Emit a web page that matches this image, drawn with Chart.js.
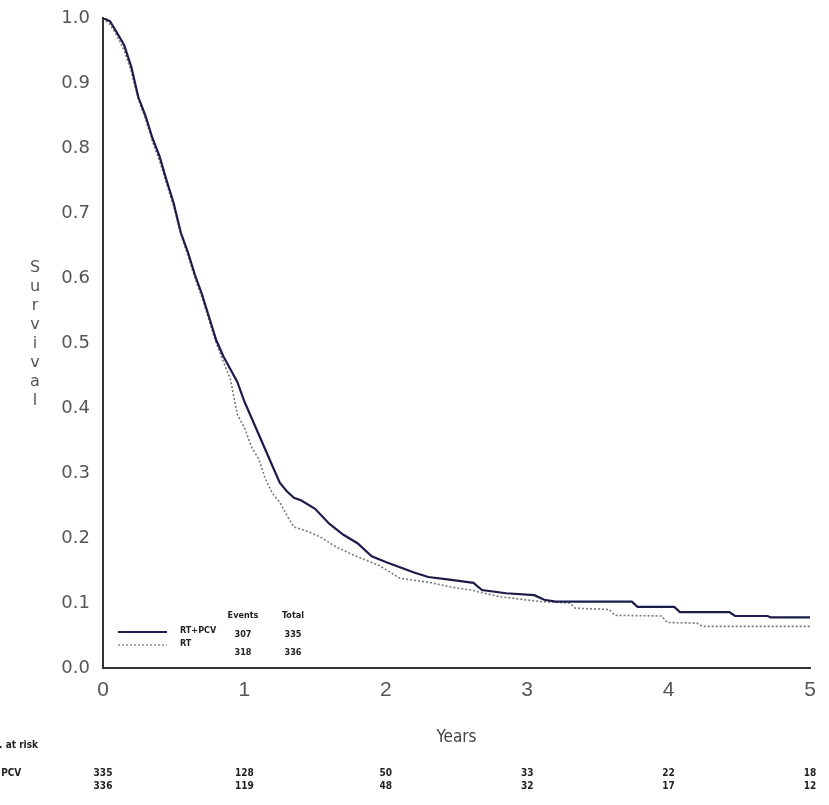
<!DOCTYPE html>
<html>
<head>
<meta charset="utf-8">
<script src="https://cdn.jsdelivr.net/npm/chart.js@4/dist/chart.umd.min.js"></script>
<style>
html,body{margin:0;padding:0;background:#fff;}
#wrap{width:829px;height:805px;position:relative;}
</style>
</head>
<body>
<div id="wrap"><canvas id="c" width="829" height="805"></canvas></div>
<script>
// ---- data ----
const seriesNames = ['RT+PCV', 'RT'];
const pcvTimes = [0,0.05,0.1,0.15,0.2,0.25,0.3,0.35,0.4,0.45,0.5,0.55,0.6,0.65,0.7,0.75,0.8,0.85,0.9,0.95,1.0,1.05,1.1,1.15,1.2,1.25,1.3,1.35,1.4,1.5,1.6,1.7,1.8,1.9,2.0,2.1,2.2,2.3,2.45,2.62,2.68,2.85,3.05,3.12,3.2,3.74,3.78,4.04,4.08,4.43,4.47,4.7,4.72,5.0];
const pcvSurv  = [1.0,0.995,0.977,0.958,0.925,0.878,0.85,0.815,0.787,0.75,0.715,0.67,0.64,0.605,0.575,0.54,0.505,0.48,0.46,0.44,0.41,0.385,0.36,0.335,0.31,0.285,0.272,0.262,0.258,0.245,0.222,0.205,0.192,0.172,0.163,0.155,0.147,0.14,0.136,0.131,0.12,0.115,0.112,0.105,0.102,0.102,0.094,0.094,0.086,0.086,0.08,0.08,0.078,0.078];
const rtTimes  = [0,0.05,0.1,0.15,0.2,0.25,0.3,0.35,0.4,0.45,0.5,0.55,0.6,0.65,0.7,0.75,0.8,0.85,0.9,0.95,1.0,1.05,1.1,1.15,1.2,1.25,1.3,1.35,1.45,1.55,1.65,1.8,1.95,2.1,2.3,2.45,2.6,2.8,3.1,3.3,3.34,3.58,3.62,3.95,3.99,4.2,4.24,5.0];
const rtSurv   = [1.0,0.99,0.972,0.95,0.918,0.875,0.845,0.81,0.78,0.745,0.71,0.668,0.635,0.6,0.57,0.535,0.5,0.472,0.445,0.39,0.37,0.34,0.322,0.29,0.268,0.255,0.235,0.217,0.21,0.2,0.186,0.171,0.158,0.138,0.132,0.125,0.12,0.11,0.102,0.1,0.092,0.09,0.081,0.08,0.07,0.069,0.064,0.064];
const events = [307, 318];
const totals = [335, 336];
const riskYears = [0,1,2,3,4,5];
const riskPCV = [335,128,50,33,22,18];
const riskRT  = [336,119,48,32,17,12];
const yTicks = [0,0.1,0.2,0.3,0.4,0.5,0.6,0.7,0.8,0.9,1.0];
const xTicks = [0,1,2,3,4,5];

const pts = (t, s) => t.map((x, i) => ({x: x, y: s[i]}));

const extras = {
  id: 'extras',
  afterDraw(chart) {
    const ctx = chart.ctx;
    const xs = chart.scales.x;
    ctx.save();
    // y-axis title stacked letters
    ctx.fillStyle = '#555';
    ctx.font = '16px "DejaVu Sans"';
    ctx.textAlign = 'center';
    ctx.textBaseline = 'middle';
    const word = 'Survival';
    for (let i = 0; i < word.length; i++) {
      ctx.fillText(word[i], 35, 268 + i * 19);
    }
    // x-axis title
    ctx.fillStyle = '#444';
    ctx.font = '17px "DejaVu Sans Condensed", "DejaVu Sans"';
    ctx.fillText('Years', (xs.left + xs.right) / 2, 738);
    // legend box inside plot
    const lx0 = 118, lx1 = 167;
    ctx.lineWidth = 2;
    ctx.strokeStyle = '#1c1c4a';
    ctx.setLineDash([]);
    ctx.beginPath(); ctx.moveTo(lx0, 632); ctx.lineTo(lx1, 632); ctx.stroke();
    ctx.lineWidth = 1.5;
    ctx.strokeStyle = '#8a8a8a';
    ctx.setLineDash([2, 2]);
    ctx.beginPath(); ctx.moveTo(lx0, 645); ctx.lineTo(lx1, 645); ctx.stroke();
    ctx.setLineDash([]);
    ctx.fillStyle = '#222';
    ctx.font = 'bold 9px "DejaVu Sans Condensed", "DejaVu Sans"';
    ctx.textAlign = 'left';
    ctx.fillText(seriesNames[0], 180, 631);
    ctx.fillText(seriesNames[1], 180, 644);
    ctx.textAlign = 'center';
    ctx.fillText('Events', 243, 616);
    ctx.fillText('Total', 293, 616);
    ctx.fillText(String(events[0]), 243, 635);
    ctx.fillText(String(totals[0]), 293, 635);
    ctx.fillText(String(events[1]), 243, 653);
    ctx.fillText(String(totals[1]), 293, 653);
    // risk table
    ctx.fillStyle = '#222';
    ctx.font = 'bold 10px "DejaVu Sans Condensed", "DejaVu Sans"';
    ctx.textAlign = 'right';
    ctx.fillText('No. at risk', 38, 745);
    ctx.textAlign = 'left';
    ctx.fillText(seriesNames[0], -19, 773);
    ctx.fillText(seriesNames[1], -19, 786);
    ctx.textAlign = 'center';
    riskYears.forEach((yr, i) => {
      const px = xs.getPixelForValue(yr);
      ctx.fillText(String(riskPCV[i]), px, 773);
      ctx.fillText(String(riskRT[i]), px, 786);
    });
    ctx.restore();
  }
};

new Chart(document.getElementById('c'), {
  type: 'line',
  data: {
    datasets: [
      { label: seriesNames[0], data: pts(pcvTimes, pcvSurv), tension: 0,
        borderColor: '#1c1c4a', borderWidth: 2.2, pointRadius: 0, fill: false },
      { label: seriesNames[1], data: pts(rtTimes, rtSurv), tension: 0,
        borderColor: '#7a7a7a', borderWidth: 1.6, borderDash: [2, 2], pointRadius: 0, fill: false }
    ]
  },
  options: {
    responsive: false,
    animation: false,
    layout: { padding: { left: 0, top: 18, right: 19, bottom: 87 } },
    plugins: { legend: { display: false }, tooltip: { enabled: false } },
    scales: {
      x: {
        type: 'linear', min: 0, max: 5,
        afterBuildTicks: s => { s.ticks = xTicks.map(v => ({value: v})); },
        afterFit: s => { s.height = 50; },
        grid: { display: false, drawTicks: true, tickLength: 7, color: '#333' },
        border: { display: true, color: '#333', width: 2 },
        ticks: { color: '#555', font: { family: 'Liberation Sans', size: 21 }, padding: 3,
                 callback: v => String(v) }
      },
      y: {
        type: 'linear', min: 0, max: 1,
        afterBuildTicks: s => { s.ticks = yTicks.map(v => ({value: v})); },
        afterFit: s => { s.width = 103; },
        grid: { display: false, drawTicks: true, tickLength: 8, color: '#333' },
        border: { display: true, color: '#333', width: 2 },
        ticks: { color: '#555', font: { family: 'DejaVu Sans', size: 18 }, padding: 5,
                 callback: v => v.toFixed(1) }
      }
    }
  },
  plugins: [extras]
});
</script>
</body>
</html>
